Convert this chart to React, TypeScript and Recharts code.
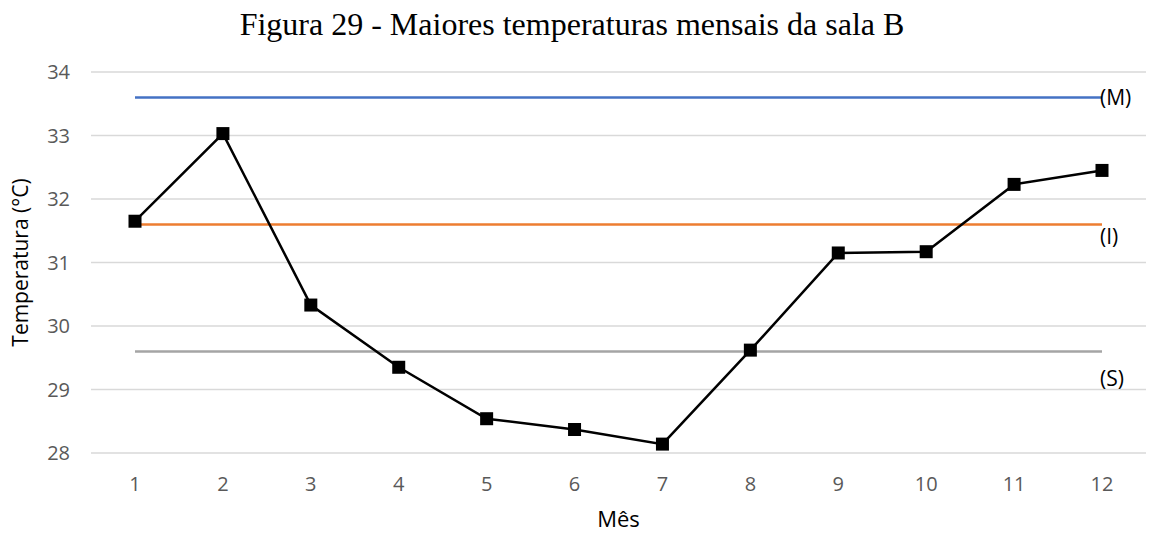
import { LineChart, Line, XAxis, YAxis, CartesianGrid, Label } from "recharts";

// Monthly maximum temperatures, room B
const months = [1, 2, 3, 4, 5, 6, 7, 8, 9, 10, 11, 12];
const maxTemps = [31.65, 33.03, 30.33, 29.35, 28.54, 28.37, 28.14, 29.62, 31.15, 31.17, 32.23, 32.45];

// Comfort limits (M, I, S)
const limitM = [33.6, 33.6, 33.6, 33.6, 33.6, 33.6, 33.6, 33.6, 33.6, 33.6, 33.6, 33.6];
const limitI = [31.6, 31.6, 31.6, 31.6, 31.6, 31.6, 31.6, 31.6, 31.6, 31.6, 31.6, 31.6];
const limitS = [29.6, 29.6, 29.6, 29.6, 29.6, 29.6, 29.6, 29.6, 29.6, 29.6, 29.6, 29.6];

const yTicks = [28, 29, 30, 31, 32, 33, 34];

const data = months.map((m, i) => ({
  month: m,
  temp: maxTemps[i],
  M: limitM[i],
  I: limitI[i],
  S: limitS[i],
}));

const tickStyle = { fill: "#595959", fontSize: 20, fontFamily: "Open Sans" };

function SquareDot(props: any) {
  const { cx, cy } = props;
  if (cx == null || cy == null) return null;
  return <rect x={cx - 6.5} y={cy - 6.5} width={13} height={13} fill="#000" />;
}

// tag drawn next to the last point of a limit line
function endTag(text: string, dy: number) {
  return (props: any) => {
    const { x, y, index } = props;
    if (index !== months.length - 1) return null;
    return (
      <text
        x={x - 2}
        y={y + dy}
        dominantBaseline="central"
        fontFamily="Open Sans"
        fontSize={21}
        fill="#000"
      >
        {text}
      </text>
    );
  };
}

export default function App() {
  return (
    <div style={{ position: "absolute", left: 0, top: 0, width: 1152, height: 533, background: "#fff" }}>
      <div
        style={{
          position: "absolute",
          top: 6,
          left: 0,
          width: 1144,
          textAlign: "center",
          fontFamily: "Liberation Serif",
          fontSize: 32,
          lineHeight: "36px",
          color: "#000",
          whiteSpace: "nowrap",
        }}
      >
        Figura 29 - Maiores temperaturas mensais da sala B
      </div>
      <LineChart
        width={1152}
        height={533}
        data={data}
        margin={{ top: 72, right: 6, bottom: 0, left: 0 }}
      >
        <CartesianGrid vertical={false} stroke="#d9d9d9" strokeWidth={1.5} />
        <XAxis
          dataKey="month"
          axisLine={false}
          tickLine={false}
          padding={{ left: 44, right: 44 }}
          tick={tickStyle}
          tickMargin={18}
          height={80}
        >
          <Label
            value="Mês"
            position="insideBottom"
            offset={6}
            style={{ fill: "#000", fontSize: 22, fontFamily: "Open Sans" }}
          />
        </XAxis>
        <YAxis
          domain={[28, 34]}
          ticks={yTicks}
          axisLine={false}
          tickLine={false}
          tick={tickStyle}
          tickMargin={15}
          width={91}
        >
          <Label
            content={(p: any) => {
              const vb = p.viewBox;
              const cy = vb.y + vb.height / 2;
              return (
                <text
                  x={20}
                  y={cy}
                  transform={`rotate(-90, 20, ${cy})`}
                  textAnchor="middle"
                  dominantBaseline="central"
                  fontFamily="Open Sans"
                  fontSize={21}
                  fill="#000"
                >
                  Temperatura (°C)
                </text>
              );
            }}
          />
        </YAxis>
        <Line
          dataKey="M"
          stroke="#4472C4"
          strokeWidth={2.5}
          dot={false}
          isAnimationActive={false}
          label={endTag("(M)", 0)}
        />
        <Line
          dataKey="I"
          stroke="#ED7D31"
          strokeWidth={2.5}
          dot={false}
          isAnimationActive={false}
          label={endTag("(I)", 12)}
        />
        <Line
          dataKey="S"
          stroke="#A5A5A5"
          strokeWidth={2.5}
          dot={false}
          isAnimationActive={false}
          label={endTag("(S)", 27)}
        />
        <Line
          dataKey="temp"
          stroke="#000"
          strokeWidth={2.5}
          dot={<SquareDot />}
          isAnimationActive={false}
        />
      </LineChart>
    </div>
  );
}
